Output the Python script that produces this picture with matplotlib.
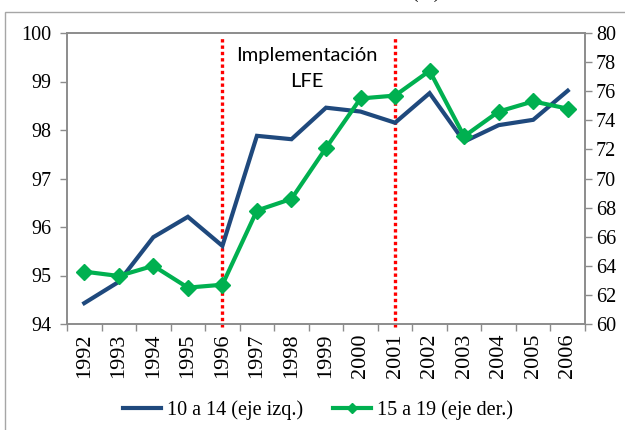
import matplotlib

matplotlib.use("Agg")
import matplotlib.pyplot as plt
from matplotlib.patches import Rectangle

years = [str(y) for y in range(1992, 2007)]
edad_10_14 = [94.43, 94.87, 95.79, 96.21, 95.61, 97.88, 97.81, 98.46,
              98.38, 98.15, 98.76, 97.76, 98.10, 98.21, 98.81]
edad_15_19 = [63.6, 63.3, 64.0, 62.5, 62.7, 67.8, 68.6, 72.1,
              75.5, 75.7, 77.4, 72.9, 74.6, 75.3, 74.8]
hitos = ["1996", "2001"]
left_ticks = [94, 95, 96, 97, 98, 99, 100]
right_ticks = list(range(60, 81, 2))

BLUE = "#1F497D"
GREEN = "#00B050"
RED = "#FF0000"
GRAY = "#8C8C8C"
SERIF = "Liberation Serif"

fig = plt.figure(figsize=(6.25, 4.3), dpi=100)
ax = fig.add_axes([67 / 625, 1 - 324 / 430, 518 / 625, 291 / 430])
ax2 = ax.twinx()

x = list(range(len(years)))
ax.plot(x, edad_10_14, color=BLUE, lw=3, label="10 a 14 (eje izq.)",
        solid_joinstyle="miter", zorder=3)
ax2.plot(x, edad_15_19, color=GREEN, lw=3, marker="D", ms=8,
         label="15 a 19 (eje der.)", zorder=3)

for h in hitos:
    ax.axvline(years.index(h), ymin=-0.012, ymax=0.986, color=RED, lw=2.4,
               ls=(0, (1, 0.9)), clip_on=False, zorder=2)

ax.set_xlim(-0.5, len(years) - 0.5)
ax.set_ylim(94, 100)
ax2.set_ylim(60, 80)
ax.set_yticks(left_ticks)
ax2.set_yticks(right_ticks)

ax.set_xticks(x)
ax.set_xticklabels(years, rotation=90, fontfamily=SERIF, fontsize=16)
ax.set_xticks([i - 0.5 for i in range(len(years) + 1)], minor=True)
ax.tick_params(axis="x", which="major", length=0, pad=7)
ax.tick_params(axis="x", which="minor", length=5, color=GRAY, width=1)
ax.tick_params(axis="y", length=5, color=GRAY, width=1, pad=6)
ax2.tick_params(axis="y", length=5, color=GRAY, width=1, pad=3)
for lab in ax.get_yticklabels() + ax2.get_yticklabels():
    lab.set_fontfamily(SERIF)
    lab.set_fontsize(14.5)

for a in (ax, ax2):
    for s in a.spines.values():
        s.set_color(GRAY)
        s.set_linewidth(1.2)

ax.text(6.45, 99.27, "Implementación\nLFE", ha="center", va="center",
        fontsize=14.5, family="Lato", linespacing=1.6)

# cropped title, only its lower edge shows at the top of the picture
fig.text(440 / 625, 1.0 + 2 / 430, "(%)", ha="right", va="baseline",
         fontsize=14, family=SERIF)

fig.patches.append(Rectangle((5 / 625, -0.1), 2, (430 - 12) / 430 + 0.1,
                             transform=fig.transFigure, fill=False,
                             ec="#A6A6A6", lw=1))

h1, l1 = ax.get_legend_handles_labels()
h2, l2 = ax2.get_legend_handles_labels()
fig.legend(h1 + h2, l1 + l2, loc="center", bbox_to_anchor=(318 / 625, 1 - 410 / 430),
           ncol=2, frameon=False, handlelength=1.9, handletextpad=0.3,
           columnspacing=1.5, markerscale=0.6, prop={"family": SERIF, "size": 14.5})

fig.savefig("out.png", dpi=100)
